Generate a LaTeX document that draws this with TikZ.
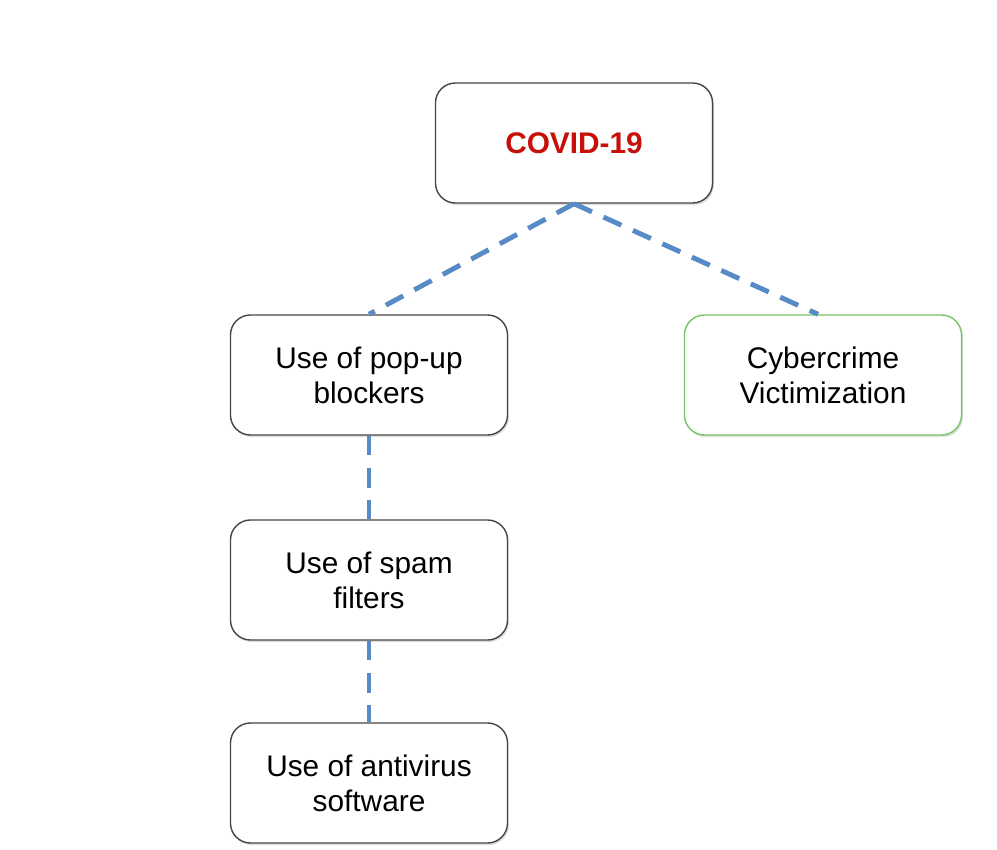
\documentclass[tikz,border=0pt]{standalone}
\usepackage{fontspec}
\setmainfont{Liberation Sans}
\usetikzlibrary{shadows}
\definecolor{linkblue}{RGB}{88,138,198}
\definecolor{boxgray}{RGB}{70,70,70}
\definecolor{covidred}{RGB}{200,16,10}
\definecolor{victimgreen}{RGB}{118,196,100}
\begin{document}
\begin{tikzpicture}[x=0.025cm,y=-0.025cm,line width=1pt,
factor/.style={draw=boxgray,fill=white,rectangle,rounded corners=0.5cm,minimum width=6.925cm,minimum height=3cm,
  align=center,font=\fontsize{21.2}{25}\selectfont,drop shadow={opacity=0.25,shadow xshift=1pt,shadow yshift=-1.5pt}},
link/.style={draw=linkblue,line width=3.5pt,dash pattern=on 14pt off 9pt}]
\useasboundingbox (0,0) rectangle (997,849);

\draw (574,143) node[factor,text=covidred,font=\fontsize{21.2}{25}\selectfont\bfseries] (covid) {COVID-19};
\draw (369,375) node[factor] (popup) {Use of pop-up\\blockers};
\draw (823,375) node[factor,draw=victimgreen] (victim) {Cybercrime\\Victimization};
\draw (369,580) node[factor] (spam) {Use of spam\\filters};
\draw (369,783) node[factor] (antivirus) {Use of antivirus\\software};

\draw[link] (covid.south) -- (popup.north);
\draw[link] (covid.south) -- ([xshift=-0.125cm]victim.north);
\draw[link] (popup.south) -- (spam.north);
\draw[link] (spam.south) -- (antivirus.north);
\end{tikzpicture}
\end{document}
